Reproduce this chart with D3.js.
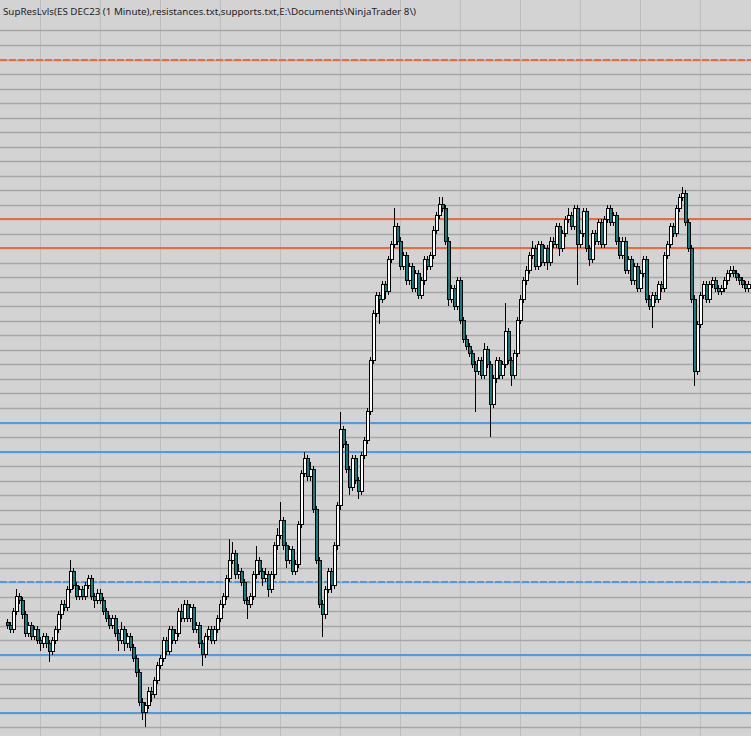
<!DOCTYPE html>
<html>
<head>
<meta charset="utf-8">
<script src="https://cdn.jsdelivr.net/npm/d3@7"></script>
<style>
  html, body { margin: 0; padding: 0; background: #d3d3d3; }
  svg { display: block; }
</style>
</head>
<body>
<div id="chart"></div>
<script>
// ---------- DATA ----------
const title = "SupResLvls(ES DEC23 (1 Minute),resistances.txt,supports.txt,E:\\Documents\\NinjaTrader 8\\)";

const resistanceLevels = [4402, 4391, 4389];
const resistanceDashed = [true, false, false];
const supportLevels = [4377, 4375, 4366, 4361, 4357];
const supportDashed = [false, false, true, false, false];

// vertical grid (time) ticks, as bar indices
const timeTickBars = [11, 31, 51, 71, 91, 111, 131, 151, 171, 191, 211, 231];
// horizontal grid price range (one line per point)
const gridPriceMin = 4355, gridPriceMax = 4404;

const openP = [
4363.25,4363.00,4362.75,4364.00,4365.00,4364.75,4363.75,4362.50,4363.00,4362.25,
4362.75,4362.00,4361.75,4362.25,4361.75,4361.25,4362.00,4362.75,4363.75,4364.50,
4364.25,4365.50,4366.75,4365.75,4365.00,4365.50,4365.00,4365.75,4366.25,4365.00,
4364.75,4365.25,4364.75,4364.00,4363.50,4363.00,4363.50,4362.50,4362.00,4362.75,
4361.75,4362.25,4361.50,4360.75,4359.75,4357.75,4357.00,4357.50,4358.50,4358.25,
4359.25,4360.25,4360.75,4362.00,4361.25,4362.75,4362.00,4362.50,4364.00,4363.50,
4364.50,4363.50,4364.25,4362.75,4363.00,4361.75,4361.00,4362.25,4362.75,4362.00,
4362.75,4363.50,4364.50,4365.00,4366.25,4367.50,4368.00,4366.50,4366.75,4366.00,
4364.75,4364.50,4365.00,4366.50,4367.50,4366.75,4366.25,4366.50,4365.50,4366.50,
4368.50,4369.25,4370.25,4368.50,4367.50,4368.25,4366.75,4367.25,4370.00,4373.50,
4374.50,4373.25,4373.75,4371.00,4367.50,4364.50,4363.75,4365.50,4366.75,4365.75,
4368.50,4371.25,4376.50,4375.50,4373.75,4372.50,4374.50,4373.00,4372.25,4374.75,
4375.75,4377.75,4381.25,4384.50,4385.75,4385.50,4386.50,4386.00,4388.25,4389.25,
4390.50,4389.50,4387.75,4388.50,4386.75,4387.75,4386.25,4387.25,4385.75,4386.75,
4388.25,4387.75,4388.50,4390.25,4391.25,4392.00,4391.75,4389.50,4385.50,4386.25,
4385.00,4386.75,4384.00,4382.75,4382.25,4381.75,4381.00,4380.50,4381.25,4380.25,
4382.00,4381.00,4378.25,4380.00,4381.25,4380.25,4381.00,4383.25,4381.25,4380.25,
4381.75,4384.00,4385.50,4386.75,4387.50,4388.50,4389.00,4387.75,4389.25,4388.00,
4389.00,4388.00,4389.50,4389.25,4390.50,4389.00,4390.00,4391.00,4391.25,4390.50,
4391.75,4389.25,4390.00,4391.50,4389.00,4388.25,4390.00,4389.50,4390.75,4389.25,
4391.00,4391.75,4390.75,4391.25,4389.50,4388.50,4389.50,4387.50,4388.25,4386.75,
4387.75,4386.25,4387.25,4388.25,4385.50,4385.00,4385.75,4385.50,4386.50,4386.25,
4388.50,4389.25,4390.50,4390.00,4391.75,4392.50,4392.75,4390.75,4389.00,4385.50,
4380.50,4383.75,4385.75,4386.50,4385.50,4386.50,4386.75,4386.25,4386.00,4386.25,
4386.75,4387.25,4387.50,4387.25,4387.00,4386.75,4386.50,4386.25
];

const highP = [
4363.50,4363.25,4364.25,4365.50,4365.25,4365.00,4364.00,4363.25,4363.25,4363.00,
4363.00,4362.25,4362.50,4362.50,4362.00,4362.25,4363.00,4364.00,4364.75,4364.75,
4365.75,4367.50,4367.00,4366.00,4365.75,4365.75,4366.00,4366.50,4366.50,4365.25,
4365.50,4365.50,4365.00,4364.25,4363.75,4363.75,4363.75,4362.75,4363.25,4363.00,
4362.50,4362.50,4361.75,4361.00,4360.00,4358.00,4357.75,4358.75,4358.75,4359.50,
4360.50,4361.00,4362.25,4362.25,4363.00,4363.00,4362.75,4364.25,4364.50,4364.75,
4364.75,4364.50,4364.50,4363.25,4363.25,4362.00,4362.50,4363.00,4363.00,4363.00,
4363.75,4364.75,4365.25,4366.50,4369.00,4368.75,4368.25,4367.25,4367.00,4366.25,
4365.00,4365.25,4366.75,4368.50,4367.75,4367.00,4367.00,4366.75,4366.75,4368.75,
4369.75,4371.50,4370.50,4368.75,4368.50,4368.50,4367.50,4370.25,4373.75,4375.00,
4374.75,4374.25,4374.00,4371.25,4367.75,4364.75,4365.75,4367.00,4367.00,4368.75,
4371.50,4377.75,4376.75,4375.75,4374.00,4374.75,4374.75,4373.25,4375.00,4376.00,
4378.00,4381.50,4384.75,4386.00,4386.00,4386.75,4386.75,4388.50,4389.50,4391.75,
4390.75,4389.75,4388.75,4388.75,4388.00,4388.00,4387.50,4387.50,4387.00,4388.50,
4388.50,4388.75,4390.50,4391.50,4392.50,4392.50,4392.00,4389.75,4386.50,4386.50,
4387.00,4387.00,4384.25,4383.00,4382.50,4382.00,4381.25,4381.50,4381.50,4382.50,
4382.25,4381.25,4380.25,4381.50,4381.50,4381.25,4385.25,4383.50,4381.50,4382.00,
4384.25,4385.75,4387.00,4387.75,4388.75,4389.50,4389.25,4389.50,4389.50,4389.25,
4389.25,4389.75,4389.75,4390.75,4390.75,4390.25,4391.25,4391.75,4391.50,4392.00,
4392.00,4390.25,4391.75,4391.75,4389.25,4390.25,4390.25,4391.00,4391.00,4391.25,
4392.00,4392.00,4391.50,4391.50,4389.75,4389.75,4389.75,4388.50,4388.50,4388.00,
4388.00,4387.50,4388.50,4388.50,4385.75,4386.00,4386.00,4386.75,4386.75,4388.75,
4389.50,4390.75,4390.75,4392.00,4392.75,4393.25,4393.00,4391.00,4389.25,4385.75,
4384.00,4386.00,4386.75,4386.75,4386.75,4387.00,4387.00,4386.50,4386.50,4387.00,
4387.50,4387.75,4387.75,4387.50,4387.25,4387.00,4386.75,4386.75
];

const lowP = [
4362.75,4362.50,4362.50,4363.75,4364.50,4363.50,4362.25,4362.25,4362.00,4362.00,
4361.75,4361.25,4361.50,4361.50,4360.50,4361.00,4361.75,4362.50,4363.50,4364.00,
4364.00,4365.25,4365.50,4364.75,4364.75,4364.75,4364.75,4365.50,4364.75,4364.25,
4364.50,4364.50,4363.75,4363.25,4362.75,4362.75,4362.25,4361.25,4361.75,4361.25,
4361.50,4361.25,4360.50,4359.50,4357.50,4356.50,4356.00,4357.25,4357.75,4358.00,
4359.00,4360.00,4360.50,4361.00,4361.00,4361.75,4361.75,4362.25,4363.25,4363.25,
4363.25,4363.25,4362.50,4362.50,4361.50,4360.25,4360.75,4362.00,4361.75,4361.75,
4362.50,4363.25,4364.25,4364.75,4366.00,4367.25,4366.25,4366.25,4365.75,4364.50,
4363.50,4364.25,4364.75,4366.25,4366.50,4365.75,4366.00,4365.00,4365.25,4366.25,
4368.25,4369.00,4368.25,4367.00,4367.25,4366.50,4366.50,4367.00,4369.75,4373.25,
4373.00,4373.00,4370.75,4367.25,4364.25,4362.25,4363.50,4365.25,4365.25,4365.50,
4368.25,4371.00,4375.25,4373.50,4372.00,4372.25,4372.75,4371.75,4372.00,4374.50,
4375.50,4377.50,4381.00,4384.25,4383.75,4385.25,4385.50,4385.75,4388.00,4389.00,
4389.25,4387.50,4387.50,4386.50,4386.50,4386.00,4386.00,4385.50,4385.50,4386.50,
4387.50,4387.50,4388.25,4390.00,4391.00,4391.50,4389.25,4385.00,4385.25,4384.75,
4384.75,4383.75,4382.50,4382.00,4381.50,4380.75,4377.75,4380.25,4380.00,4380.00,
4380.75,4376.00,4378.00,4379.75,4380.00,4380.00,4380.75,4381.00,4379.50,4380.00,
4381.50,4383.75,4385.25,4386.50,4387.25,4388.25,4387.50,4387.50,4387.75,4387.75,
4387.50,4387.75,4389.00,4389.00,4388.50,4388.75,4389.75,4390.75,4390.25,4390.25,
4386.50,4389.00,4389.75,4388.75,4387.75,4388.00,4389.25,4389.25,4389.00,4389.00,
4390.75,4390.50,4390.50,4389.25,4388.25,4388.25,4387.25,4387.25,4386.50,4386.50,
4386.00,4386.00,4387.00,4385.25,4384.75,4383.50,4385.25,4385.25,4386.00,4386.00,
4388.25,4389.00,4389.75,4389.75,4391.50,4392.25,4390.50,4388.75,4385.25,4379.50,
4380.25,4383.50,4385.50,4385.25,4385.25,4386.25,4386.00,4385.75,4385.75,4386.00,
4386.50,4387.00,4387.00,4386.75,4386.50,4386.25,4386.00,4386.00
];

const closeP = [
4363.00,4362.75,4364.00,4365.00,4364.75,4363.75,4362.50,4363.00,4362.25,4362.75,
4362.00,4361.75,4362.25,4361.75,4361.25,4362.00,4362.75,4363.75,4364.50,4364.25,
4365.50,4366.75,4365.75,4365.00,4365.50,4365.00,4365.75,4366.25,4365.00,4364.75,
4365.25,4364.75,4364.00,4363.50,4363.00,4363.50,4362.50,4362.00,4362.75,4361.75,
4362.25,4361.50,4360.75,4359.75,4357.75,4357.00,4357.50,4358.50,4358.25,4359.25,
4360.25,4360.75,4362.00,4361.25,4362.75,4362.00,4362.50,4364.00,4363.50,4364.50,
4363.50,4364.25,4362.75,4363.00,4361.75,4361.00,4362.25,4362.75,4362.00,4362.75,
4363.50,4364.50,4365.00,4366.25,4367.50,4368.00,4366.50,4366.75,4366.00,4364.75,
4364.50,4365.00,4366.50,4367.50,4366.75,4366.25,4366.50,4365.50,4366.50,4368.50,
4369.25,4370.25,4368.50,4367.50,4368.25,4366.75,4367.25,4370.00,4373.50,4374.50,
4373.25,4373.75,4371.00,4367.50,4364.50,4363.75,4365.50,4366.75,4365.75,4368.50,
4371.25,4376.50,4375.50,4373.75,4372.50,4374.50,4373.00,4372.25,4374.75,4375.75,
4377.75,4381.25,4384.50,4385.75,4385.50,4386.50,4386.00,4388.25,4389.25,4390.50,
4389.50,4387.75,4388.50,4386.75,4387.75,4386.25,4387.25,4385.75,4386.75,4388.25,
4387.75,4388.50,4390.25,4391.25,4392.00,4391.75,4389.50,4385.50,4386.25,4385.00,
4386.75,4384.00,4382.75,4382.25,4381.75,4381.00,4380.50,4381.25,4380.25,4382.00,
4381.00,4378.25,4380.00,4381.25,4380.25,4381.00,4383.25,4381.25,4380.25,4381.75,
4384.00,4385.50,4386.75,4387.50,4388.50,4389.00,4387.75,4389.25,4388.00,4389.00,
4388.00,4389.50,4389.25,4390.50,4389.00,4390.00,4391.00,4391.25,4390.50,4391.75,
4389.25,4390.00,4391.50,4389.00,4388.25,4390.00,4389.50,4390.75,4389.25,4391.00,
4391.75,4390.75,4391.25,4389.50,4388.50,4389.50,4387.50,4388.25,4386.75,4387.75,
4386.25,4387.25,4388.25,4385.50,4385.00,4385.75,4385.50,4386.50,4386.25,4388.50,
4389.25,4390.50,4390.00,4391.75,4392.50,4392.75,4390.75,4389.00,4385.50,4380.50,
4383.75,4385.75,4386.50,4385.50,4386.50,4386.75,4386.25,4386.00,4386.25,4386.75,
4387.25,4387.50,4387.25,4387.00,4386.75,4386.50,4386.25,4386.50
];

// ---------- CHART ----------
const W = 751, H = 736;
const N = closeP.length;
const bars = d3.range(N).map(i => ({ i, o: openP[i], h: highP[i], l: lowP[i], c: closeP[i] }));

const x = d3.scaleLinear().domain([0, N - 1]).range([7, 7 + 3 * (N - 1)]);
const y = d3.scaleLinear().domain([4402, 4357]).range([59.5, 712.9]);

const svg = d3.select("#chart").append("svg")
  .attr("width", W).attr("height", H);

svg.append("rect").attr("width", W).attr("height", H).attr("fill", "#d3d3d3");

// vertical grid
svg.append("g").selectAll("line").data(timeTickBars).join("line")
  .attr("x1", d => Math.round(x(d)) + 0.5).attr("x2", d => Math.round(x(d)) + 0.5)
  .attr("y1", 0).attr("y2", H)
  .attr("stroke", "#bdbdbd").attr("stroke-width", 1);

// horizontal grid: every 1 point
const priceTicks = d3.range(gridPriceMin, gridPriceMax + 1, 1);
svg.append("g").selectAll("line").data(priceTicks).join("line")
  .attr("x1", 0).attr("x2", W)
  .attr("y1", d => Math.round(y(d)) + 0.5).attr("y2", d => Math.round(y(d)) + 0.5)
  .attr("stroke", "#a6a6a6").attr("stroke-width", 1.3);

// support / resistance lines
const levels = resistanceLevels.map((v, k) => ({ v, dashed: resistanceDashed[k], color: "#ec6a3c" }))
  .concat(supportLevels.map((v, k) => ({ v, dashed: supportDashed[k], color: "#4c9be6" })));
svg.append("g").selectAll("line").data(levels).join("line")
  .attr("x1", 0).attr("x2", W)
  .attr("y1", d => Math.round(y(d.v))).attr("y2", d => Math.round(y(d.v)))
  .attr("stroke", d => d.color).attr("stroke-width", 2)
  .attr("stroke-dasharray", d => d.dashed ? "7,2" : null);

// candles
const cg = svg.append("g").attr("shape-rendering", "crispEdges");
cg.selectAll("line.wick").data(bars).join("line")
  .attr("class", "wick")
  .attr("x1", d => Math.round(x(d.i)) + 0.5).attr("x2", d => Math.round(x(d.i)) + 0.5)
  .attr("y1", d => y(d.h)).attr("y2", d => y(d.l))
  .attr("stroke", "#000").attr("stroke-width", 1);
cg.selectAll("rect.body").data(bars).join("rect")
  .attr("class", "body")
  .attr("x", d => Math.round(x(d.i)) - 0.5)
  .attr("width", 3)
  .attr("y", d => y(Math.max(d.o, d.c)))
  .attr("height", d => Math.max(1, y(Math.min(d.o, d.c)) - y(Math.max(d.o, d.c))))
  .attr("fill", d => d.c >= d.o ? "#ffffff" : "#0e7e80")
  .attr("stroke", "#000").attr("stroke-width", 1);

// title
const t = svg.append("text")
  .attr("x", 3).attr("y", 15)
  .attr("font-family", "'Noto Sans', 'Open Sans', sans-serif")
  .attr("font-size", 12)
  .attr("fill", "#1e1e1e")
  .text(title);
const natural = t.node().getComputedTextLength();
const target = 413;
if (natural > 0) {
  const fs = Math.max(9.5, Math.min(12.5, 12 * target / natural));
  t.attr("font-size", fs);
  t.attr("textLength", target).attr("lengthAdjust", "spacingAndGlyphs");
}
</script>
</body>
</html>
